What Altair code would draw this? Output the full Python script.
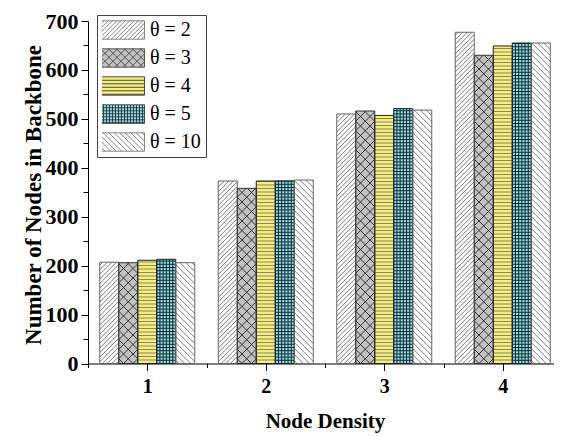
import altair as alt
import pandas as pd

# ---------------- data ----------------
densities = [1, 2, 3, 4]
series = ["θ = 2", "θ = 3", "θ = 4", "θ = 5", "θ = 10"]
theta2 = [207, 373, 510, 677]
theta3 = [206, 358, 516, 630]
theta4 = [211, 373, 507, 649]
theta5 = [213, 373, 521, 655]
theta10 = [206, 375, 518, 655]
y_major = [0, 100, 200, 300, 400, 500, 600, 700]
y_minor = [50, 150, 250, 350, 450, 550, 650]
x_major = [1, 2, 3, 4]
x_minor = [0.5, 1.5, 2.5, 3.5, 4.5]

# ---------------- style ----------------
FILLS = ["#ffffff", "#c2c2c2", "#f6ee82", "#8fdbe8", "#ffffff"]
STROKES = ["#666666", "#333333", "#222222", "#222222", "#666666"]
FONT = "Liberation Serif"

W, H = 466, 342.5
RANGE_W = 474
XMIN, XMAX, YMAX = 0.5, 4.5, 700
PXX = RANGE_W / (XMAX - XMIN)   # px per x unit
PXY = H / YMAX                  # px per y unit
BARPX = 19.0
BAR = BARPX / PXX

rows = []
for i, (name, vals) in enumerate(zip(series, [theta2, theta3, theta4, theta5, theta10])):
    for d, v in zip(densities, vals):
        rows.append({"density": d, "series": name, "idx": i, "value": v})
df = pd.DataFrame(rows)

xs = alt.Scale(domain=[XMIN, XMAX], range=[0, RANGE_W], nice=False, zero=False)
ys = alt.Scale(domain=[0, YMAX], nice=False, zero=True)
fill_scale = alt.Scale(domain=series, range=FILLS)

base = (
    alt.Chart(df)
    .transform_calculate(xl=f"datum.density + (datum.idx - 2.5) * {BAR}")
    .transform_calculate(xr=f"datum.xl + {BAR}")
    .transform_calculate(hpx=f"datum.value * {PXY}")
    .transform_calculate(zero="0")
)

major_x = alt.Axis(
    values=x_major, format="d", orient="bottom", tickSize=7, tickColor="black",
    domainColor="black", labelFont=FONT, labelFontWeight="bold", labelFontSize=20,
    labelColor="black", labelBaseline="alphabetic", labelPadding=22, labelFlush=False,
    title="Node Density", titleFont=FONT, titleFontWeight="bold", titleFontSize=21,
    titleColor="black", titleBaseline="alphabetic", titleY=63.5, grid=False,
)
major_y = alt.Axis(
    values=y_major, orient="left", tickSize=7, tickColor="black", domainColor="black",
    labelFont=FONT, labelFontWeight="bold", labelFontSize=22, labelColor="black",
    labelPadding=3, title="Number of Nodes in Backbone", titleFont=FONT,
    titleFontWeight="bold", titleFontSize=23, titleColor="black",
    titleBaseline="alphabetic", titleX=-48, titleY=173.5, grid=False,
)
minor_x = alt.Axis(values=x_minor, orient="bottom", tickSize=4, tickColor="black",
                   labels=False, domain=False, title=None, grid=False)
minor_y = alt.Axis(values=y_minor, orient="left", tickSize=5, tickColor="black",
                   labels=False, domain=False, title=None, grid=False)


# ---- legend swatch shapes (unit-square paths, 47 x 18.4 px) ----
def swatch(kinds):
    U = 23.5
    h = 9.2 / U
    parts = [f"M-1,{-h:.3f}H1V{h:.3f}H-1Z"]
    for kind, pitch_px in kinds:
        p = pitch_px / U
        if kind == "slash":
            c = -1 - h + p / 2
            while c < 1 + h:
                a = max(-1, c - h); b = min(1, c + h)
                parts.append(f"M{a:.3f},{c - a:.3f}L{b:.3f},{c - b:.3f}")
                c += p
        elif kind == "back":
            c = -1 - h + p / 2
            while c < 1 + h:
                a = max(-1, -h - c); b = min(1, h - c)
                parts.append(f"M{a:.3f},{a + c:.3f}L{b:.3f},{b + c:.3f}")
                c += p
        elif kind == "horiz":
            y = -h + p
            while y < h - 0.01:
                parts.append(f"M-1,{y:.3f}H1")
                y += p
        elif kind == "vert":
            x = -1 + p
            while x < 1 - 0.01:
                parts.append(f"M{x:.3f},{-h:.3f}V{h:.3f}")
                x += p
    return "".join(parts)


SHAPES = [
    swatch([("slash", 4.3)]),
    swatch([("slash", 8.0), ("back", 8.0)]),
    swatch([("horiz", 3.5)]),
    swatch([("horiz", 3.0), ("vert", 3.0)]),
    swatch([("back", 5.5)]),
]

legend = alt.Legend(
    title=None, orient="none", legendX=9, legendY=-6, padding=5,
    strokeColor="#444444", fillColor="white",
    labelFont=FONT, labelFontSize=20, labelColor="black", labelOffset=5,
    symbolSize=2209, symbolStrokeColor="#222222", symbolStrokeWidth=0.8,
    symbolOpacity=1, clipHeight=20, rowPadding=8, symbolOffset=-5,
)

# invisible point layer that only carries the legend
legend_layer = (
    base.mark_point(filled=True, opacity=0, size=2209, strokeWidth=0.8)
    .encode(
        fill=alt.Fill("series:N", scale=fill_scale, legend=legend),
        shape=alt.Shape("series:N", scale=alt.Scale(domain=series, range=SHAPES), legend=legend),
    )
)

fills = base.mark_rect().encode(
    x=alt.X("xl:Q", scale=xs, axis=major_x),
    x2="xr:Q",
    y=alt.Y("value:Q", scale=ys, axis=major_y),
    y2="zero:Q",
    fill=alt.Fill("series:N", scale=fill_scale, legend=legend),
)


def finish(c, color, width):
    return (
        c.transform_filter("datum.u2 > datum.u1")
        .transform_calculate(hx1=f"datum.xl + datum.u1 / {PXX}")
        .transform_calculate(hx2=f"datum.xl + datum.u2 / {PXX}")
        .transform_calculate(hy1=f"datum.v1 / {PXY}")
        .transform_calculate(hy2=f"datum.v2 / {PXY}")
        .mark_rule(color=color, strokeWidth=width)
        .encode(
            x=alt.X("hx1:Q", scale=xs, axis=None),
            x2="hx2:Q",
            y=alt.Y("hy1:Q", scale=ys, axis=None),
            y2="hy2:Q",
        )
    )


def slash(idx, pitch, color, width):
    c = (
        base.transform_filter(f"datum.idx == {idx}")
        .transform_calculate(cs=f"sequence(-{BARPX} + {pitch / 2}, datum.hpx, {pitch})")
        .transform_flatten(["cs"])
        .transform_calculate(u1="max(0, -datum.cs)")
        .transform_calculate(u2=f"min({BARPX}, datum.hpx - datum.cs)")
        .transform_calculate(v1="datum.u1 + datum.cs")
        .transform_calculate(v2="datum.u2 + datum.cs")
    )
    return finish(c, color, width)


def backslash(idx, pitch, color, width):
    c = (
        base.transform_filter(f"datum.idx == {idx}")
        .transform_calculate(cs=f"sequence({pitch / 2}, datum.hpx + {BARPX}, {pitch})")
        .transform_flatten(["cs"])
        .transform_calculate(u1="max(0, datum.cs - datum.hpx)")
        .transform_calculate(u2=f"min({BARPX}, datum.cs)")
        .transform_calculate(v1="datum.cs - datum.u1")
        .transform_calculate(v2="datum.cs - datum.u2")
    )
    return finish(c, color, width)


def horizontal(idx, pitch, color, width):
    return (
        base.transform_filter(f"datum.idx == {idx}")
        .transform_calculate(lv=f"sequence({pitch}, datum.hpx, {pitch})")
        .transform_flatten(["lv"])
        .transform_calculate(ly=f"datum.lv / {PXY}")
        .mark_rule(color=color, strokeWidth=width)
        .encode(
            x=alt.X("xl:Q", scale=xs, axis=None),
            x2="xr:Q",
            y=alt.Y("ly:Q", scale=ys, axis=None),
        )
    )


def vertical(idx, pitch, color, width):
    return (
        base.transform_filter(f"datum.idx == {idx}")
        .transform_calculate(lu=f"sequence({pitch}, {BARPX}, {pitch})")
        .transform_flatten(["lu"])
        .transform_calculate(lx=f"datum.xl + datum.lu / {PXX}")
        .mark_rule(color=color, strokeWidth=width)
        .encode(
            x=alt.X("lx:Q", scale=xs, axis=None),
            y=alt.Y("value:Q", scale=ys, axis=None),
            y2="zero:Q",
        )
    )


hatches = [
    slash(0, 4.6, "#444444", 0.7),
    slash(1, 9.5, "#222222", 0.9),
    backslash(1, 9.5, "#222222", 0.9),
    horizontal(2, 3.5, "#6e6c4c", 0.8),
    horizontal(3, 3.2, "#15292d", 1.0),
    vertical(3, 3.2, "#15292d", 1.0),
    backslash(4, 6.0, "#444444", 0.7),
]

outlines = base.mark_rect(fill="transparent", strokeWidth=1).encode(
    x=alt.X("xl:Q", scale=xs, axis=minor_x),
    x2="xr:Q",
    y=alt.Y("value:Q", scale=ys, axis=minor_y),
    y2="zero:Q",
    stroke=alt.Stroke("series:N", scale=alt.Scale(domain=series, range=STROKES), legend=None),
)

chart = (
    alt.layer(legend_layer, fills, *hatches, outlines)
    .resolve_axis(x="independent", y="independent")
    .properties(
        width=W, height=H, autosize="none",
        padding={"left": 80, "top": 13, "right": 0, "bottom": 76},
        background="white",
    )
    .configure_view(stroke=None)
    .configure_axis(grid=False)
)

chart.save("out.html", embed_options={"renderer": "svg", "actions": False})
